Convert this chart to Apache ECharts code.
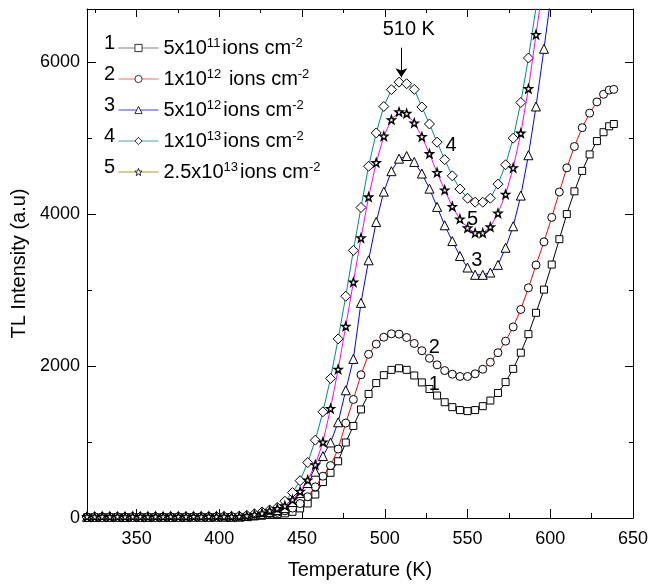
<!DOCTYPE html>
<html><head><meta charset="utf-8">
<script src="https://cdn.jsdelivr.net/npm/echarts@6/dist/echarts.min.js"></script>
<style>html,body{margin:0;padding:0;background:#fff}#c{width:651px;height:585px}</style>
</head><body><div id="c"></div>
<script>
// ---- data ----
const temperature = [320,324.6,329.2,333.8,338.4,343,347.6,352.2,356.8,361.4,
366,370.6,375.2,379.8,384.4,389,393.6,398.2,402.8,407.4,
412,416.6,421.2,425.8,430.4,435,439.6,444.2,448.8,453.4,
458,462.6,467.2,471.8,476.4,481,485.6,490.2,494.8,499.4,
504,508.6,513.2,517.8,522.4,527,531.6,536.2,540.8,545.4,
550,554.6,559.2,563.8,568.4,573,577.6,582.2,586.8,591.4,
596.2,600.9,605.5,610,614.6,619.3,623.8,628.2,632.2,635.6,638.4];

const dose1 = [10,12,9,11,10,12,11,9,12,10,11,13,10,12,11,12,13,12,14,13,
14,17,22,30,40,50,61,82,126,191,309,473,595,747,994,1212,1429,1633,1776,1880,
1950,1971,1950,1876,1785,1698,1612,1524,1459,1420,1407,1420,1472,1546,1646,1789,1963,2176,2420,2701,
3006,3336,3670,4000,4300,4569,4786,4961,5078,5156,5186];
const dose2 = [14,12,15,13,14,12,15,13,14,15,13,14,16,14,15,14,16,15,15,14,
15,20,30,42,58,75,95,130,190,280,410,550,690,908,1250,1560,1885,2155,2289,2380,
2425,2420,2376,2297,2202,2102,2016,1941,1893,1863,1863,1898,1958,2050,2176,2328,2515,2745,3030,3330,
3635,3957,4291,4609,4890,5138,5329,5477,5577,5633,5642];
const dose3 = [16,14,17,15,16,14,17,16,15,17,16,15,17,16,18,17,16,18,17,16,
18,25,38,55,80,105,130,210,330,460,610,815,994,1260,1681,2094,2832,3392,3896,4296,
4565,4730,4765,4687,4534,4335,4095,3853,3645,3449,3297,3201,3201,3231,3332,3557,3840,4244,4775,5417,
6176,6950,null,null,null,null,null,null,null,null,null];
const dose4 = [12,15,13,16,14,13,15,14,16,15,14,16,15,17,16,18,17,19,20,22,
25,35,55,80,105,139,221,335,491,730,1025,1398,1837,2358,2919,3522,4087,4630,5069,5417,
5638,5737,5716,5642,5411,5186,4947,4717,4504,4330,4209,4157,4157,4209,4395,4650,5000,5469,6055,6720,
7450,null,null,null,null,null,null,null,null,null,null];
const dose5 = [18,16,19,17,18,17,19,18,17,19,18,20,19,18,20,19,21,20,19,20,
20,30,45,65,95,125,160,240,350,500,700,1000,1440,1958,2524,3105,3687,4226,4678,5026,
5242,5346,5325,5199,5020,4795,4547,4317,4100,3935,3818,3753,3753,3831,4013,4261,4609,5065,5651,6363,
7100,null,null,null,null,null,null,null,null,null,null];

const seriesNames = ['1','2','3','4','5'];
const fluenceMantissa = ['5x10','1x10','5x10','1x10','2.5x10'];
const fluenceExponent = ['11','12','12','13','13'];
const xMajorTicks = [350,400,450,500,550,600,650];
const xMinorTicks = [325,375,425,475,525,575,625];
const yMajorTicks = [0,2000,4000,6000];
const yMinorTicks = [1000,3000,5000];
const curveLabels = [['4',540,4900],['5',553,3934],['3',555.6,3392],['2',529.9,2244],['1',529.9,1754]];
const peakLabel = '510 K';
const peakTemp = 510;

// ---- styles ----
const FONT = '"Liberation Sans", Arial, sans-serif';
const allData = [dose1,dose2,dose3,dose4,dose5];
const lineColors = ['#000000','#ff0000','#0000ff','#008b8b','#ff00ff'];
const legendLineColors = ['#808080','#f06a6a','#3c3cff','#45a3a3','#a0a020'];
const starPath = 'path://M0,-10 L2.35,-3.24 L9.51,-3.09 L3.8,1.24 L5.88,8.09 L0,4 L-5.88,8.09 L-3.8,1.24 L-9.51,-3.09 L-2.35,-3.24 Z';
const symbols = ['rect','circle','triangle','diamond',starPath];
const symbolSizes = [7,8,9,10,8];
const borderWidths = [1,1,1,1,1.4];

function pairs(vals){
  const out=[];
  vals.forEach((v,i)=>{ if(v!==null) out.push([temperature[i], v]); });
  return out;
}

const series = seriesNames.map((n,k)=>({
  name:n, type:'line', xAxisIndex:0, yAxisIndex:0,
  data:pairs(allData[k]),
  symbol:symbols[k], symbolSize:symbolSizes[k], showSymbol:true,
  itemStyle:{color:'#ffffff', borderColor:'#000000', borderWidth:borderWidths[k]},
  lineStyle:{color:lineColors[k], width:1},
  emphasis:{disabled:true}, clip:true, z:2+k
}));

series[3].markLine = {
  silent:true, symbol:['none','arrow'], symbolSize:9,
  lineStyle:{color:'#000', type:'solid', width:1},
  label:{show:false},
  data:[[{coord:[peakTemp,6190]},{coord:[peakTemp,5800]}]]
};
series[0].markPoint = {
  silent:true, symbolSize:0,
  label:{show:true, position:'inside', formatter:p=>p.name, fontSize:20, color:'#000', fontFamily:FONT},
  data: curveLabels.map(c=>({name:c[0], coord:[c[1],c[2]]}))
    .concat([{name:peakLabel, coord:[514.5,6424]}])
};

const legendText = {};
seriesNames.forEach((n,k)=>{
  legendText[n] = '{n|'+fluenceMantissa[k]+'}{s|'+fluenceExponent[k]+'}{n|'+(k===1?' ':'')+'ions cm}{s|-2}';
});

const axisLineStyle = {lineStyle:{color:'#000', width:1}};
const plain = v => String(v);
function xAx(pos, ticks, len, showLine, labels){
  return {type:'value', position:pos, min:320, max:650, splitLine:{show:false},
    axisLine:{show:showLine, onZero:false, ...axisLineStyle},
    axisTick:{show:true, inside:true, length:len, customValues:ticks, lineStyle:{color:'#000'}},
    axisLabel: labels ? {show:true, customValues:xMajorTicks, formatter:plain, fontSize:18, color:'#000', fontFamily:FONT, margin:12} : {show:false}
  };
}
function yAx(pos, ticks, len, showLine, labels){
  return {type:'value', position:pos, min:0, max:6700, splitLine:{show:false},
    axisLine:{show:showLine, onZero:false, ...axisLineStyle},
    axisTick:{show:true, inside:true, length:len, customValues:ticks, lineStyle:{color:'#000'}},
    axisLabel: labels ? {show:true, customValues:yMajorTicks, formatter:plain, fontSize:18, color:'#000', fontFamily:FONT, margin:7} : {show:false}
  };
}
const xAxes = [xAx('bottom',xMajorTicks,9,true,true), xAx('bottom',xMinorTicks,5,false,false),
  xAx('top',xMajorTicks,8,true,false), xAx('top',xMinorTicks,4,false,false)];
Object.assign(xAxes[0], {name:'Temperature (K)', nameLocation:'middle', nameGap:42,
  nameTextStyle:{fontSize:20, color:'#000', fontFamily:FONT}});
const yAxes = [yAx('left',yMajorTicks,9,true,true), yAx('left',yMinorTicks,5,false,false),
  yAx('right',yMajorTicks,8,true,false), yAx('right',yMinorTicks,4,false,false)];
Object.assign(yAxes[0], {name:'TL Intensity (a.u)', nameLocation:'middle', nameGap:58,
  nameTextStyle:{fontSize:20, color:'#000', fontFamily:FONT}});

const chart = echarts.init(document.getElementById('c'), null, {renderer:'canvas'});
chart.setOption({
  animation:false,
  backgroundColor:'#fff',
  textStyle:{fontFamily:FONT},
  grid:{left:87, right:18, top:9, bottom:62, containLabel:false},
  xAxis:xAxes, yAxis:yAxes,
  legend:{
    orient:'vertical', left:113, top:32, itemWidth:40, itemHeight:9, itemGap:10,
    selectedMode:false,
    itemStyle:{borderWidth:0.8},
    data: seriesNames.map((n,k)=>({name:n, lineStyle:{color:legendLineColors[k], width:1}})),
    formatter: n=>legendText[n],
    textStyle:{fontSize:20, color:'#000', fontFamily:FONT,
      rich:{n:{fontSize:20, lineHeight:22, fontFamily:FONT, color:'#000'},
            s:{fontSize:13, lineHeight:13, verticalAlign:'top', fontFamily:FONT, color:'#000', padding:[0,2,0,0]}}}
  },
  graphic: seriesNames.map((n,k)=>({type:'text', left:104, top:33+k*31,
    style:{text:n, fontSize:20, fontFamily:FONT, fill:'#000'}})),
  series:series
});
</script></body></html>
